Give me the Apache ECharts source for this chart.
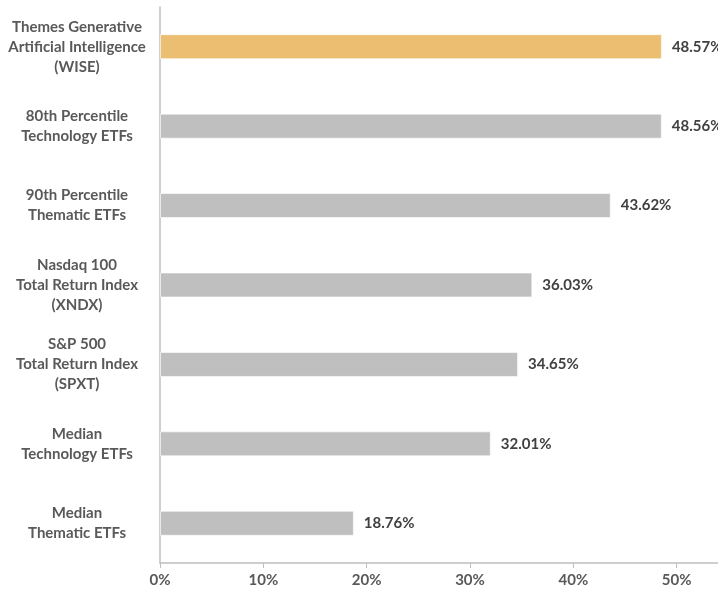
<!DOCTYPE html>
<html>
<head>
<meta charset="utf-8">
<script src="https://cdn.jsdelivr.net/npm/echarts@6/dist/echarts.min.js"></script>
<style>
html,body{margin:0;padding:0;background:#fff;}
#c{width:718px;height:590px;}
</style>
</head>
<body>
<div id="c"></div>
<script>
const categories = [
  "Themes Generative\nArtificial Intelligence\n(WISE)",
  "80th Percentile\nTechnology ETFs",
  "90th Percentile\nThematic ETFs",
  "Nasdaq 100\nTotal Return Index\n(XNDX)",
  "S&P 500\nTotal Return Index\n(SPXT)",
  "Median\nTechnology ETFs",
  "Median\nThematic ETFs"
];
const values = [48.57, 48.56, 43.62, 36.03, 34.65, 32.01, 18.76];
const highlightIndex = 0;
const tickLabels = ["0%", "10%", "20%", "30%", "40%", "50%", "60%"];

const FONT = "Lato";
const chart = echarts.init(document.getElementById('c'), null, {renderer: 'canvas'});
chart.setOption({
  animation: false,
  backgroundColor: '#ffffff',
  grid: {left: 160, right: -62, top: 7, bottom: 27, containLabel: false, outerBoundsMode: 'none'},
  xAxis: {
    type: 'value', min: 0, max: 60, interval: 10,
    splitLine: {show: false},
    axisLine: {show: true, lineStyle: {color: '#bfbfbf', width: 1.5}},
    axisTick: {show: true, length: 5, lineStyle: {color: '#bfbfbf'}},
    axisLabel: {
      formatter: v => tickLabels[Math.round(v / 10)],
      color: '#595959', fontFamily: FONT, fontWeight: 'bold', fontSize: 15, margin: 10
    }
  },
  yAxis: {
    type: 'category', data: categories, inverse: true,
    axisLine: {show: true, lineStyle: {color: '#bfbfbf', width: 1.5}},
    axisTick: {show: false},
    axisLabel: {
      color: '#595959', fontFamily: FONT, fontWeight: 'bold', fontSize: 15,
      lineHeight: 20, align: 'center', margin: 83
    }
  },
  series: [{
    type: 'bar',
    data: values.map((v, i) => ({
      value: v,
      itemStyle: {color: i === highlightIndex ? '#ebbe72' : '#bfbfbf'}
    })),
    barWidth: 25,
    itemStyle: {borderColor: 'rgba(255,255,255,0.6)', borderWidth: 1},
    label: {
      show: true, position: 'right', distance: 10,
      formatter: p => p.value.toFixed(2) + '%',
      color: '#404040', fontFamily: FONT, fontWeight: 'bold', fontSize: 15
    }
  }]
});
</script>
</body>
</html>
